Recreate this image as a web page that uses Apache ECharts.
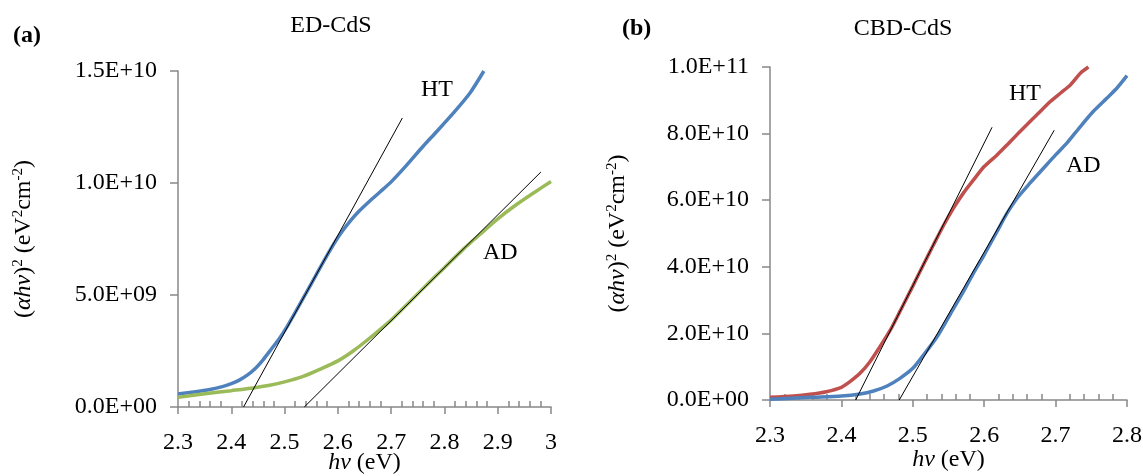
<!DOCTYPE html>
<html>
<head>
<meta charset="utf-8">
<script src="https://cdn.jsdelivr.net/npm/echarts@6/dist/echarts.min.js"></script>
<style>
  html, body { margin: 0; padding: 0; background: #fff; }
  #chart { width: 1143px; height: 476px; }
</style>
</head>
<body>
<div id="chart"></div>
<script>
// (a) ED-CdS : hv (eV) vs (ahv)^2
const edHT = [
  [2.300, 0.58e9], [2.330, 0.67e9], [2.360, 0.78e9], [2.385, 0.92e9], [2.400, 1.04e9],
  [2.415, 1.20e9], [2.430, 1.42e9], [2.445, 1.72e9], [2.460, 2.12e9], [2.475, 2.58e9],
  [2.490, 3.05e9], [2.505, 3.60e9], [2.520, 4.22e9], [2.540, 5.07e9], [2.560, 5.93e9],
  [2.580, 6.78e9], [2.595, 7.38e9], [2.610, 7.90e9], [2.625, 8.35e9], [2.640, 8.75e9],
  [2.660, 9.20e9], [2.680, 9.62e9], [2.700, 10.05e9], [2.730, 10.82e9], [2.760, 11.64e9],
  [2.786, 12.31e9], [2.817, 13.13e9], [2.848, 14.02e9], [2.874, 15.0e9]
];
const edAD = [
  [2.300, 0.43e9], [2.347, 0.58e9], [2.400, 0.73e9], [2.441, 0.85e9], [2.472, 0.97e9],
  [2.500, 1.12e9], [2.535, 1.37e9], [2.566, 1.68e9], [2.600, 2.06e9], [2.628, 2.49e9],
  [2.660, 3.08e9], [2.700, 3.88e9], [2.735, 4.70e9], [2.773, 5.60e9], [2.800, 6.22e9],
  [2.836, 7.06e9], [2.873, 7.84e9], [2.900, 8.40e9], [2.936, 9.05e9], [2.970, 9.60e9],
  [3.000, 10.07e9]
];
const edHTFit = [[2.423, 0], [2.721, 12.9e9]];
const edADFit = [[2.537, 0], [2.981, 10.49e9]];

// (b) CBD-CdS
const cbdHT = [
  [2.300, 0.08e10], [2.333, 0.12e10], [2.356, 0.17e10], [2.379, 0.25e10], [2.400, 0.38e10],
  [2.412, 0.55e10], [2.426, 0.80e10], [2.440, 1.15e10], [2.454, 1.60e10], [2.468, 2.08e10],
  [2.482, 2.66e10], [2.500, 3.42e10], [2.515, 4.07e10], [2.529, 4.66e10], [2.543, 5.24e10],
  [2.557, 5.76e10], [2.571, 6.22e10], [2.585, 6.61e10], [2.600, 7.01e10], [2.618, 7.36e10],
  [2.632, 7.66e10], [2.646, 7.97e10], [2.660, 8.27e10], [2.674, 8.57e10], [2.693, 8.97e10],
  [2.707, 9.22e10], [2.721, 9.47e10], [2.735, 9.82e10], [2.746, 10.0e10]
];
const cbdAD = [
  [2.300, 0.02e10], [2.356, 0.08e10], [2.400, 0.12e10], [2.426, 0.18e10], [2.445, 0.27e10],
  [2.464, 0.42e10], [2.482, 0.65e10], [2.500, 0.95e10], [2.515, 1.35e10], [2.534, 1.90e10],
  [2.552, 2.56e10], [2.571, 3.26e10], [2.585, 3.81e10], [2.600, 4.36e10], [2.618, 5.06e10],
  [2.632, 5.61e10], [2.646, 6.06e10], [2.664, 6.51e10], [2.683, 6.96e10], [2.700, 7.36e10],
  [2.716, 7.72e10], [2.735, 8.22e10], [2.753, 8.67e10], [2.772, 9.07e10], [2.786, 9.37e10],
  [2.800, 9.74e10]
];
const cbdHTFit = [[2.420, 0], [2.611, 8.19e10]];
const cbdADFit = [[2.481, 0], [2.698, 8.10e10]];

const FONT = '"Liberation Serif", "Times New Roman", serif';
const AXIS_GREY = '#888888';

function sci(v) {
  if (v === 0) return '0.0E+00';
  const e = Math.floor(Math.log10(v) + 1e-9);
  const m = v / Math.pow(10, e);
  return m.toFixed(1) + 'E+' + (e < 10 ? '0' + e : e);
}

const nameRich = {
  p: { fontFamily: FONT, fontSize: 24, color: '#000' },
  i: { fontFamily: FONT, fontSize: 24, fontStyle: 'italic', color: '#000' },
  s: { fontFamily: FONT, fontSize: 15, color: '#000', verticalAlign: 'top', padding: [0, 0, 11, 0] }
};
const yName = '{p|(}{i|αhv}{p|)}{s|2}{p| (eV}{s|2}{p|cm}{s|-2}{p|)}';
const xName = '{i|hv}{p| (eV)}';

function xAxis(gridIndex, max, nameGap) {
  return {
    type: 'value', gridIndex, min: 2.3, max, interval: 0.1,
    name: xName, nameLocation: 'middle', nameGap, nameMoveOverlap: false,
    nameTextStyle: { rich: nameRich },
    axisLine: { lineStyle: { color: AXIS_GREY, width: 1.5 } },
    axisTick: { length: 7, lineStyle: { color: AXIS_GREY, width: 1.5 } },
    minorTick: { show: true, splitNumber: 5, length: -6, lineStyle: { color: AXIS_GREY, width: 1.5 } },
    axisLabel: { fontFamily: FONT, fontSize: 24, color: '#000', margin: 24 },
    splitLine: { show: false }
  };
}
function yAxis(gridIndex, max, interval, nameGap) {
  return {
    type: 'value', gridIndex, min: 0, max, interval,
    name: yName, nameLocation: 'middle', nameRotate: 90, nameGap,
    nameTextStyle: { rich: nameRich },
    axisLine: { show: true, lineStyle: { color: AXIS_GREY, width: 1.5 } },
    axisTick: { show: true, length: 8, lineStyle: { color: AXIS_GREY, width: 1.5 } },
    axisLabel: { fontFamily: FONT, fontSize: 24, color: '#000', margin: 21, formatter: sci },
    splitLine: { show: false }
  };
}
function curve(x, y, data, color) {
  return {
    type: 'line', xAxisIndex: x, yAxisIndex: y, data, smooth: 0.25,
    showSymbol: false, lineStyle: { color, width: 3.5 }, z: 2
  };
}
function fit(x, y, data) {
  return {
    type: 'line', xAxisIndex: x, yAxisIndex: y, data,
    showSymbol: false, lineStyle: { color: '#000', width: 1 }, z: 3
  };
}
function txt(left, top, text, bold) {
  return {
    type: 'text', left, top,
    style: { text, font: (bold ? 'bold ' : '') + '24px ' + FONT, fill: '#000' }
  };
}

const chart = echarts.init(document.getElementById('chart'));
chart.setOption({
  animation: false,
  title: [
    { text: 'ED-CdS', left: 326, top: 9, textAlign: 'center',
      textStyle: { fontFamily: FONT, fontSize: 24, fontWeight: 'normal', color: '#000' } },
    { text: 'CBD-CdS', left: 898, top: 12, textAlign: 'center',
      textStyle: { fontFamily: FONT, fontSize: 24, fontWeight: 'normal', color: '#000' } }
  ],
  grid: [
    { left: 178, top: 71, width: 373, height: 336, outerBoundsMode: 'none', containLabel: false },
    { left: 770, top: 67, width: 357, height: 333, outerBoundsMode: 'none', containLabel: false }
  ],
  xAxis: [xAxis(0, 3.0, 44), xAxis(1, 2.8, 48)],
  yAxis: [yAxis(0, 1.5e10, 5e9, 141), yAxis(1, 1e11, 2e10, 139)],
  series: [
    curve(0, 0, edHT, '#4F81BD'),
    curve(0, 0, edAD, '#9BBB59'),
    fit(0, 0, edHTFit),
    fit(0, 0, edADFit),
    curve(1, 1, cbdHT, '#C0504D'),
    curve(1, 1, cbdAD, '#4F81BD'),
    fit(1, 1, cbdHTFit),
    fit(1, 1, cbdADFit)
  ],
  graphic: [
    txt(13, 24, '(a)', true),
    txt(622, 17, '(b)', true),
    txt(421, 78, 'HT'),
    txt(483, 241, 'AD'),
    txt(1009, 82, 'HT'),
    txt(1066, 154, 'AD')
  ]
});
</script>
</body>
</html>
